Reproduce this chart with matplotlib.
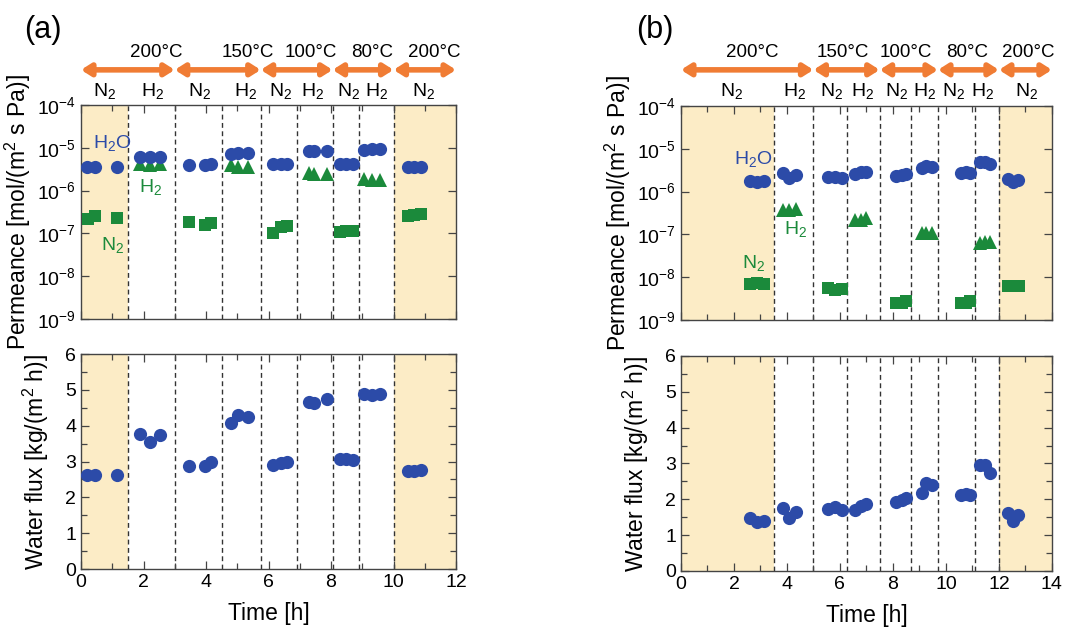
"""
Permeance and water flux vs. time for two membranes, panels (a) and (b).
"""
import matplotlib
matplotlib.use("Agg")
import matplotlib.pyplot as plt
import matplotlib.transforms as mtransforms
from matplotlib.patches import FancyArrowPatch
from matplotlib.ticker import MultipleLocator, NullLocator, FixedLocator

plt.rcParams["font.family"] = ["Liberation Sans", "DejaVu Sans"]
plt.rcParams["mathtext.fontset"] = "custom"
plt.rcParams["mathtext.rm"] = "Liberation Sans"
plt.rcParams["mathtext.it"] = "Liberation Sans"

BLUE = "#2c4ba8"
GREEN = "#1b8a3b"
SHADE = "#fcecc6"
ORANGE = "#f07c34"
FRAME = "#444444"

# ---------------- panel (a) ----------------
a_xmax = 12
a_shade = [(0, 1.5), (10, 12)]
a_dividers = [1.5, 3.0, 4.5, 5.75, 6.9, 8.05, 8.9, 10.0]
a_temp_spans = [(0, 3.0), (3.0, 5.75), (5.75, 8.05), (8.05, 10.0), (10.0, 12.0)]
a_temp_labels = ["200°C", "150°C", "100°C", "80°C", "200°C"]
a_temp_xpos = [2.4, 5.35, 7.35, 9.3, 11.3]
a_gas_labels = ["N$_2$", "H$_2$", "N$_2$", "H$_2$", "N$_2$", "H$_2$", "N$_2$", "H$_2$", "N$_2$"]
a_gas_xpos = [0.77, 2.3, 3.8, 5.25, 6.4, 7.4, 8.55, 9.46, 10.95]

a_h2o_t = [0.18, 0.44, 1.16, 1.90, 2.22, 2.52, 3.47, 3.96, 4.16, 4.80, 5.01, 5.33,
           6.15, 6.40, 6.60, 7.30, 7.46, 7.88, 8.28, 8.49, 8.71, 9.05, 9.31, 9.56,
           10.46, 10.67, 10.88]
a_h2o_perm = [3.5e-6, 3.5e-6, 3.5e-6, 6.2e-6, 6.0e-6, 6.2e-6, 4.0e-6, 4.0e-6, 4.2e-6,
              7.2e-6, 7.5e-6, 7.4e-6, 4.2e-6, 4.2e-6, 4.2e-6, 8.4e-6, 8.4e-6, 8.5e-6,
              4.2e-6, 4.2e-6, 4.2e-6, 9.1e-6, 9.2e-6, 9.2e-6, 3.6e-6, 3.6e-6, 3.6e-6]
a_flux = [2.63, 2.61, 2.63, 3.77, 3.54, 3.73, 2.87, 2.87, 2.99, 4.07, 4.31, 4.24,
          2.91, 2.96, 3.00, 4.66, 4.63, 4.74, 3.07, 3.08, 3.05, 4.89, 4.85, 4.89,
          2.73, 2.74, 2.77]
a_h2_t = [1.90, 2.22, 2.52, 4.80, 5.01, 5.33, 7.30, 7.46, 7.88, 9.05, 9.31, 9.56]
a_h2_perm = [4.1e-6, 4.0e-6, 4.1e-6, 4.0e-6, 3.6e-6, 3.5e-6, 2.6e-6, 2.5e-6, 2.5e-6,
             1.85e-6, 1.8e-6, 1.75e-6]
a_n2_t = [0.21, 0.46, 1.16, 3.47, 3.96, 4.16, 6.15, 6.40, 6.60, 8.28, 8.49, 8.71,
          10.46, 10.67, 10.88]
a_n2_perm = [2.15e-7, 2.6e-7, 2.3e-7, 1.83e-7, 1.6e-7, 1.75e-7, 1.05e-7, 1.45e-7, 1.5e-7,
             1.1e-7, 1.15e-7, 1.12e-7, 2.6e-7, 2.75e-7, 2.8e-7]

# ---------------- panel (b) ----------------
b_xmax = 14
b_shade = [(0, 3.5), (12, 14)]
b_dividers = [3.5, 5.0, 6.25, 7.5, 8.7, 9.7, 11.1, 12.0]
b_temp_spans = [(0, 5.0), (5.0, 7.5), (7.5, 9.7), (9.7, 12.0), (12.0, 14.0)]
b_temp_labels = ["200°C", "150°C", "100°C", "80°C", "200°C"]
b_temp_xpos = [2.7, 6.1, 8.5, 10.8, 13.1]
b_gas_labels = ["N$_2$", "H$_2$", "N$_2$", "H$_2$", "N$_2$", "H$_2$", "N$_2$", "H$_2$", "N$_2$"]
b_gas_xpos = [1.9, 4.3, 5.7, 6.85, 8.15, 9.2, 10.27, 11.4, 13.05]

b_h2o_t = [2.61, 2.86, 3.15, 3.87, 4.06, 4.35, 5.56, 5.81, 6.06, 6.57, 6.78, 7.00,
           8.11, 8.33, 8.49, 9.08, 9.26, 9.48, 10.58, 10.75, 10.92, 11.30, 11.46, 11.65,
           12.34, 12.53, 12.72]
b_h2o_perm = [1.8e-6, 1.7e-6, 1.75e-6, 2.8e-6, 2.1e-6, 2.5e-6, 2.15e-6, 2.2e-6, 2.1e-6,
              2.65e-6, 2.9e-6, 2.95e-6, 2.35e-6, 2.4e-6, 2.6e-6, 3.5e-6, 4.0e-6, 3.8e-6,
              2.8e-6, 2.85e-6, 2.75e-6, 4.8e-6, 4.8e-6, 4.4e-6, 1.95e-6, 1.65e-6, 1.9e-6]
b_flux = [1.49, 1.37, 1.40, 1.77, 1.49, 1.65, 1.74, 1.79, 1.69, 1.71, 1.80, 1.88,
          1.93, 1.98, 2.03, 2.19, 2.46, 2.40, 2.11, 2.16, 2.11, 2.95, 2.95, 2.74,
          1.62, 1.39, 1.55]
b_h2_t = [3.87, 4.06, 4.35, 6.57, 6.78, 7.00, 9.08, 9.26, 9.48, 11.30, 11.46, 11.65]
b_h2_perm = [3.7e-7, 3.8e-7, 3.9e-7, 2.2e-7, 2.2e-7, 2.4e-7, 1.07e-7, 1.1e-7, 1.07e-7,
             6.2e-8, 6.6e-8, 6.6e-8]
b_n2_t = [2.61, 2.86, 3.15, 5.56, 5.81, 6.06, 8.11, 8.33, 8.49, 10.58, 10.75, 10.92,
          12.34, 12.56, 12.76]
b_n2_perm = [6.9e-9, 7.3e-9, 7.0e-9, 5.5e-9, 5.0e-9, 5.2e-9, 2.45e-9, 2.5e-9, 2.85e-9,
             2.45e-9, 2.5e-9, 2.8e-9, 6.4e-9, 6.2e-9, 6.2e-9]


def style_axes(ax, xmax):
    ax.set_xlim(0, xmax)
    ax.xaxis.set_major_locator(MultipleLocator(2))
    ax.xaxis.set_minor_locator(MultipleLocator(1))
    ax.tick_params(which="both", direction="in", top=True, right=True,
                   colors=FRAME, labelcolor="black", labelsize=14)
    ax.tick_params(which="major", length=6, width=0.9)
    ax.tick_params(which="minor", length=4, width=0.9)
    for sp in ax.spines.values():
        sp.set_color(FRAME)
        sp.set_linewidth(1.0)


def background(ax, shade, dividers):
    for x0, x1 in shade:
        ax.axvspan(x0, x1, color=SHADE, lw=0, zorder=0)
    for x in dividers:
        ax.axvline(x, color="#333333", ls=(0, (3.5, 2.5)), lw=1.0, zorder=1)


def draw_panel(fig, rect_top, rect_bot, xmax, shade, dividers, temp_spans, temp_labels,
               temp_xpos, gas_labels, gas_xpos, h2o_t, h2o_perm, flux, h2_t, h2_perm,
               n2_t, n2_perm, letter, letter_x, notes):
    ax1 = fig.add_axes(rect_top)
    ax2 = fig.add_axes(rect_bot)

    # permeance
    background(ax1, shade, dividers)
    ax1.set_yscale("log")
    ax1.set_ylim(1e-9, 1e-4)
    ax1.yaxis.set_major_locator(FixedLocator([1e-9, 1e-8, 1e-7, 1e-6, 1e-5, 1e-4]))
    ax1.yaxis.set_minor_locator(NullLocator())
    ax1.set_yticklabels(["10$^{-%d}$" % k for k in [9, 8, 7, 6, 5, 4]])
    style_axes(ax1, xmax)
    ax1.tick_params(labelbottom=False)
    ax1.plot(h2_t, h2_perm, ls="none", marker="^", ms=10, color=GREEN, mew=0, zorder=3)
    ax1.plot(n2_t, n2_perm, ls="none", marker="s", ms=9, color=GREEN, mew=0, zorder=3)
    ax1.plot(h2o_t, h2o_perm, ls="none", marker="o", ms=9.5, color=BLUE, mew=0, zorder=4)
    ax1.set_ylabel("Permeance [mol/(m$^2$ s Pa)]", fontsize=16.5, labelpad=3)
    (hx, hy), (gx, gy), (nx, ny) = notes
    ax1.text(hx, hy, "H$_2$O", color=BLUE, fontsize=14, ha="center", va="center")
    ax1.text(gx, gy, "H$_2$", color=GREEN, fontsize=14, ha="center", va="center")
    ax1.text(nx, ny, "N$_2$", color=GREEN, fontsize=14, ha="center", va="center")

    # header: temperature arrows and gas labels
    tr = mtransforms.blended_transform_factory(ax1.transData, fig.transFigure)
    for (x0, x1) in temp_spans:
        arr = FancyArrowPatch((x0, 0.89), (x1, 0.89), transform=tr,
                              arrowstyle="<|-|>,head_length=5.5,head_width=3.5",
                              mutation_scale=1, lw=4.0, color=ORANGE,
                              shrinkA=0, shrinkB=0, clip_on=False)
        fig.patches.append(arr)
    for x, lab in zip(temp_xpos, temp_labels):
        ax1.text(x, 0.918, lab, transform=tr, ha="center", va="center", fontsize=13.5)
    for x, lab in zip(gas_xpos, gas_labels):
        ax1.text(x, 0.857, lab, transform=tr, ha="center", va="center", fontsize=14)
    fig.text(letter_x, 0.952, letter, fontsize=22, ha="center", va="center")

    # water flux
    background(ax2, shade, dividers)
    ax2.set_ylim(0, 6)
    ax2.yaxis.set_major_locator(MultipleLocator(1))
    ax2.yaxis.set_minor_locator(MultipleLocator(0.5))
    style_axes(ax2, xmax)
    ax2.plot(h2o_t, flux, ls="none", marker="o", ms=9.5, color=BLUE, mew=0, zorder=4)
    ax2.set_ylabel("Water flux [kg/(m$^2$ h)]", fontsize=16.5, labelpad=10)
    ax2.set_xlabel("Time [h]", fontsize=16.5, labelpad=8)


fig = plt.figure(figsize=(10.7, 6.35), dpi=100)

draw_panel(fig, [0.0757, 0.4976, 0.3505, 0.337], [0.0757, 0.1039, 0.3505, 0.3386],
           a_xmax, a_shade, a_dividers, a_temp_spans, a_temp_labels, a_temp_xpos,
           a_gas_labels, a_gas_xpos, a_h2o_t, a_h2o_perm, a_flux, a_h2_t, a_h2_perm,
           a_n2_t, a_n2_perm, "(a)", 0.040,
           [(1.0, 1.32e-5), (2.24, 1.2e-6), (1.0, 5.4e-8)])

draw_panel(fig, [0.6364, 0.4960, 0.3467, 0.337], [0.6364, 0.1008, 0.3467, 0.3386],
           b_xmax, b_shade, b_dividers, b_temp_spans, b_temp_labels, b_temp_xpos,
           b_gas_labels, b_gas_xpos, b_h2o_t, b_h2o_perm, b_flux, b_h2_t, b_h2_perm,
           b_n2_t, b_n2_perm, "(b)", 0.612,
           [(2.74, 5.8e-6), (4.31, 1.35e-7), (2.74, 2.1e-8)])

fig.savefig("out.png", dpi=100)
